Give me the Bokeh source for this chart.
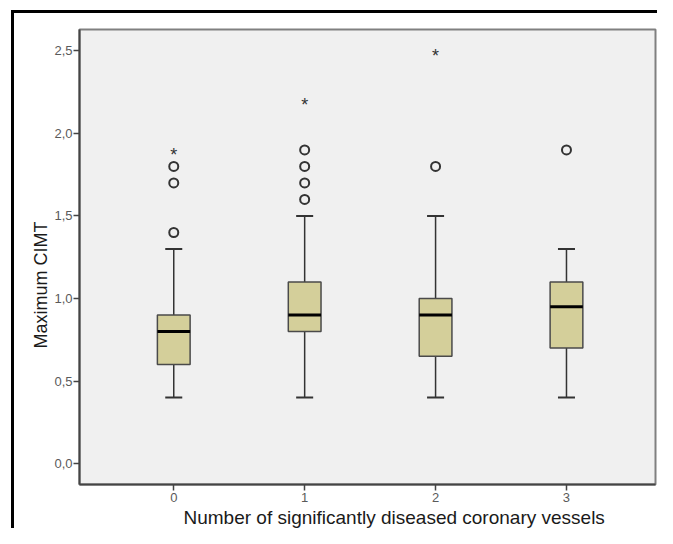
from bokeh.plotting import figure
from bokeh.models import FixedTicker, Range1d, Title
from bokeh.core.properties import value
from bokeh.embed import file_html
from bokeh.resources import INLINE

groups = [0, 1, 2, 3]
lower_whisker = [0.4, 0.4, 0.4, 0.4]
q1 = [0.6, 0.8, 0.65, 0.7]
median = [0.8, 0.9, 0.9, 0.95]
q3 = [0.9, 1.1, 1.0, 1.1]
upper_whisker = [1.3, 1.5, 1.5, 1.3]
outlier_x = [0, 0, 0, 1, 1, 1, 1, 2, 3]
outlier_y = [1.4, 1.7, 1.8, 1.6, 1.7, 1.8, 1.9, 1.8, 1.9]
extreme_x = [0, 1, 2]
extreme_y = [1.9, 2.2, 2.5]
y_ticks = [0.0, 0.5, 1.0, 1.5, 2.0, 2.5]
x_label = "Number of significantly diseased coronary vessels"
y_label = "Maximum CIMT"

W, H = 657, 528
p = figure(width=W, height=H, output_backend="svg", toolbar_location=None,
           x_range=Range1d(-0.72, 3.68), y_range=Range1d(-0.127, 2.63),
           min_border_left=79, min_border_right=2, min_border_top=29, min_border_bottom=44)
p.background_fill_color = "#f0f0f0"
p.border_fill_color = None
# black crop lines of the source figure (top and left), painted under the transparent canvas border
p.styles = {
    "background": "linear-gradient(#000, #000) 11px 10px / 100% 3px no-repeat, "
                  "linear-gradient(#000, #000) 11px 10px / 3px 100% no-repeat, #fff"
}
p.outline_line_color = "#808080"
p.outline_line_width = 2
p.xgrid.visible = False
p.ygrid.visible = False

box_w = 0.25
cap_w = 0.13
col = "#d4cf9a"
edge = "#4a4a4a"

p.segment(groups, lower_whisker, groups, q1, line_color="#333333", line_width=1.5)
p.segment(groups, q3, groups, upper_whisker, line_color="#333333", line_width=1.5)
p.segment([g - cap_w / 2 for g in groups], lower_whisker, [g + cap_w / 2 for g in groups], lower_whisker,
          line_color="#333333", line_width=2)
p.segment([g - cap_w / 2 for g in groups], upper_whisker, [g + cap_w / 2 for g in groups], upper_whisker,
          line_color="#333333", line_width=2)
p.vbar(x=groups, width=box_w, bottom=q1, top=q3, fill_color=col, line_color=edge, line_width=1.5)
p.segment([g - box_w / 2 for g in groups], median, [g + box_w / 2 for g in groups], median,
          line_color="black", line_width=3)
p.scatter(outlier_x, outlier_y, marker="circle", size=9, fill_color=None, line_color="#333333", line_width=2)
p.text(extreme_x, extreme_y, text=["*"] * len(extreme_x), text_font=value("Liberation Sans"),
       text_font_size="18px", text_align="center", text_baseline="middle", y_offset=5,
       text_color="#333333")

p.xaxis.ticker = FixedTicker(ticks=groups)
p.xaxis.major_label_overrides = {g: str(g) for g in groups}
p.yaxis.ticker = FixedTicker(ticks=y_ticks)
p.yaxis.major_label_overrides = {t: f"{t:.1f}".replace(".", ",") for t in y_ticks}
for ax in (p.xaxis, p.yaxis):
    ax.minor_tick_line_color = None
    ax.axis_line_color = "#444444"
    ax.axis_line_width = 2
    ax.major_tick_line_color = "#444444"
    ax.major_tick_line_width = 1.5
    ax.major_tick_out = 6
    ax.major_tick_in = 0
    ax.major_label_text_font = "Liberation Sans"
    ax.major_label_text_font_size = "13px"
    ax.major_label_text_color = "#5a5a5a"
p.yaxis.major_label_standoff = 1
p.xaxis.major_label_standoff = 2

p.add_layout(Title(text=x_label, align="left", offset=104, standoff=0, text_font="Liberation Sans",
                   text_font_size="19px", text_font_style="normal", text_color="#1a1a1a"), "below")
p.add_layout(Title(text=y_label, align="left", offset=136, standoff=2, text_font="Liberation Sans",
                   text_font_size="18px", text_font_style="normal", text_color="#1a1a1a"), "left")

open("out.html", "w").write(file_html(p, INLINE))
